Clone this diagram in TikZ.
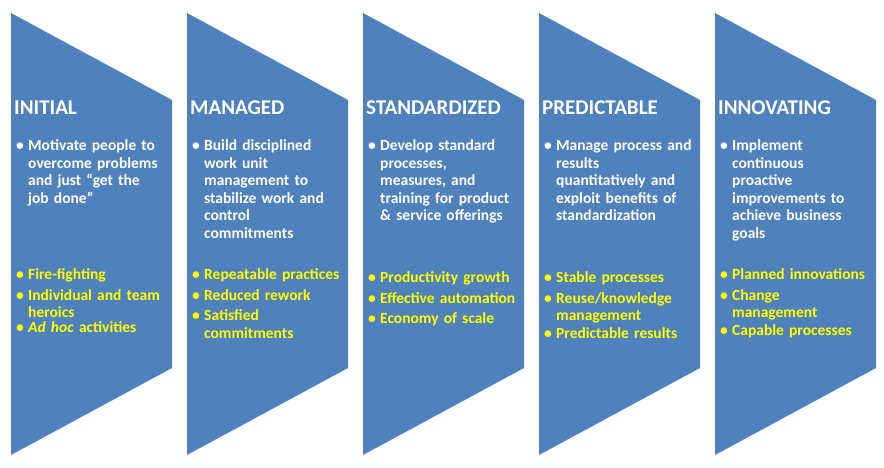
\documentclass[tikz,border=0pt]{standalone}
\usepackage{fontspec}
\setmainfont{Carlito}
\usepackage{xcolor}
\definecolor{stageblue}{HTML}{4F81BD}
\definecolor{practyellow}{HTML}{FFFF00}
\newcommand{\bul}[1]{\par\noindent\makebox[12pt][l]{\textbullet}\parbox[t]{136pt}{\raggedright\hyphenpenalty=10000 #1}\par}

\begin{document}
\begin{tikzpicture}[x=1pt,y=-1pt,
	title/.style={anchor=north west,inner sep=0pt,text=white,font=\bfseries\fontsize{21}{24}\selectfont},
	goal/.style={anchor=north west,inner sep=0pt,text width=150pt,align=left,text=white,font=\bfseries\fontsize{15.5}{17.5}\selectfont},
	result/.style={goal,text=practyellow}]
\useasboundingbox (0,0) rectangle (884,468);
\fill[stageblue] (11,13)  -- (172,100) -- (172,368) -- (11,455)  -- cycle;
\fill[stageblue] (187,13) -- (348,100) -- (348,368) -- (187,455) -- cycle;
\fill[stageblue] (363,13) -- (524,100) -- (524,368) -- (363,455) -- cycle;
\fill[stageblue] (539,13) -- (700,100) -- (700,368) -- (539,455) -- cycle;
\fill[stageblue] (715,13) -- (876,100) -- (876,368) -- (715,455) -- cycle;
	\draw (14, 101) node[title] (T1) {INITIAL};
	\draw (190,101) node[title] (T2) {MANAGED};
	\draw (366,101) node[title] (T3) {STANDARDIZED};
	\draw (542,101) node[title] (T4) {PREDICTABLE};
	\draw (718,101) node[title] (T5) {INNOVATING};
	\draw (16, 133) node[goal] (G1) {\bul{Motivate people to overcome problems and just “get the job done”}};
	\draw (192,133) node[goal] (G2) {\bul{Build disciplined work unit management to stabilize work and control commitments}};
	\draw (368,133) node[goal] (G3) {\bul{Develop standard processes, measures, and training for product \& service offerings}};
	\draw (544,133) node[goal] (G4) {\bul{Manage process and results quantitatively and exploit benefits of standardization}};
	\draw (720,133) node[goal] (G5) {\bul{Implement continuous proactive improvements to achieve business goals}};
	\draw (16, 262) node[result] (R1) {\bul{Fire-fighting}\vspace{3pt}\bul{Individual and team heroics}\vspace{3pt}\bul{\textit{Ad hoc} activities}};
	\draw (192,262) node[result] (R2) {\bul{Repeatable practices}\vspace{3pt}\bul{Reduced rework}\vspace{3pt}\bul{Satisfied commitments}};
	\draw (368,265) node[result] (R3) {\bul{Productivity growth}\vspace{3pt}\bul{Effective automation}\vspace{3pt}\bul{Economy of scale}};
	\draw (544,265) node[result] (R4) {\bul{Stable processes}\vspace{3pt}\bul{Reuse/knowledge management}\vspace{3pt}\bul{Predictable results}};
	\draw (720,262) node[result] (R5) {\bul{Planned innovations}\vspace{3pt}\bul{Change management}\vspace{3pt}\bul{Capable processes}};
\end{tikzpicture}
\end{document}
